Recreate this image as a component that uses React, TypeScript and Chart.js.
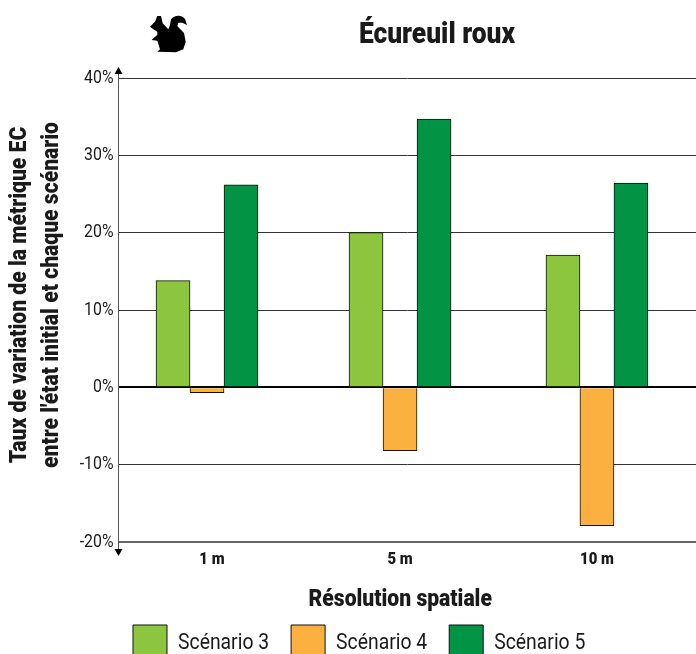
import React, { useEffect, useRef } from "react";
import { Chart, registerables } from "chart.js";

Chart.register(...registerables);

const resolutions = ["1 m", "5 m", "10 m"];
const groupPositions = [1, 1.99, 3];
const tickPositions = [1.025, 1.99, 3];
const scenario3 = [13.8, 20, 17.1];
const scenario4 = [-0.7, -8.2, -17.9];
const scenario5 = [26.2, 34.7, 26.4];
const yTicks = [40, 30, 20, 10, 0, -10, -20];

const FAMILY = "Roboto, sans-serif";
const TEXT = "#1a1a1a";
const CONDENSE = 0.88;
const squirrel =
  "M157.3 16 L161 16 L162.7 23.3 L168.3 29.3 L170 25 L171 19.3 Q174 15.7 178.3 15.7 Q183 16 185 19 L187 25 L182.3 22.7 L178.3 22.7 L177.3 26 L184 33 L185.7 41.7 L183.3 49.3 L176 52.3 L157.3 51.7 L160 49.3 L157.3 40.7 L151.7 40 L155 36.7 L157.3 35 L157.3 31.7 L153.3 29.3 L150 26.7 L155 21.7 Z";

const toPoints = (values: number[]) =>
  values.map((y, i) => ({ x: groupPositions[i], y }));

// No condensed face is installed: narrow Roboto horizontally, for drawing and for measuring alike.
function condenseText(ctx: any) {
  const fill = ctx.fillText.bind(ctx);
  const measure = ctx.measureText.bind(ctx);
  ctx.fillText = (text: string, x: number, y: number) => {
    ctx.save();
    ctx.translate(x, y);
    ctx.scale(CONDENSE, 1);
    fill(text, 0, 0);
    ctx.restore();
  };
  ctx.measureText = (text: string) => ({ width: measure(text).width * CONDENSE });
}

const decorations = {
  id: "decorations",
  afterLayout(chart: any) {
    chart.titleBlock.left = 178;
    chart.titleBlock.right = 696;
    chart.legend.left = 111;
    chart.legend.top += 17;
    chart.legend.bottom += 17;
    chart.scales.y.bottom = chart.chartArea.bottom - 30;
    chart.scales.x.right = chart.chartArea.right - 14;
    chart.scales.x.bottom += 28;
  },
  afterDraw(chart: any) {
    const { ctx, chartArea } = chart;
    const x = chartArea.left;
    ctx.save();
    ctx.strokeStyle = "#555";
    ctx.lineWidth = 1;
    ctx.beginPath();
    ctx.moveTo(x, chartArea.top - 8);
    ctx.lineTo(x, chartArea.bottom + 8);
    ctx.stroke();
    ctx.fillStyle = "#000";
    ctx.beginPath();
    ctx.moveTo(x, chartArea.top - 11);
    ctx.lineTo(x - 4, chartArea.top - 4);
    ctx.lineTo(x + 4, chartArea.top - 4);
    ctx.closePath();
    ctx.moveTo(x, chartArea.bottom + 14);
    ctx.lineTo(x - 4, chartArea.bottom + 7);
    ctx.lineTo(x + 4, chartArea.bottom + 7);
    ctx.closePath();
    ctx.fill();
    ctx.fill(new Path2D(squirrel));
    ctx.restore();
  },
};

export default function App() {
  const ref = useRef<HTMLCanvasElement | null>(null);
  useEffect(() => {
    if (!ref.current) return;
    condenseText(ref.current.getContext("2d"));
    const bar = { borderColor: "#111", borderWidth: 1, barThickness: 34, clip: false };
    const chart = new Chart(ref.current, {
      type: "bar",
      data: {
        datasets: [
          { label: "Scénario 3", data: toPoints(scenario3), backgroundColor: "#8CC63F", ...bar },
          { label: "Scénario 4", data: toPoints(scenario4), backgroundColor: "#FBB040", ...bar },
          { label: "Scénario 5", data: toPoints(scenario5), backgroundColor: "#009444", ...bar },
        ],
      } as any,
      plugins: [decorations],
      options: {
        animation: false,
        responsive: false,
        layout: { padding: 0 },
        plugins: {
          tooltip: { enabled: false },
          title: {
            display: true,
            text: "Écureuil roux",
            color: TEXT,
            font: { family: FAMILY, size: 30, weight: 900, lineHeight: 1.2 },
            padding: { top: 17, bottom: 25 },
          },
          legend: {
            position: "bottom",
            align: "start",
            labels: {
              boxWidth: 34,
              boxHeight: 36,
              padding: 22,
              color: TEXT,
              font: { family: FAMILY, size: 22 },
            },
          },
        },
        scales: {
          x: {
            type: "linear",
            offset: false,
            min: 0.546,
            max: 3.508,
            afterBuildTicks(scale: any) {
              scale.ticks = tickPositions.map((value) => ({ value }));
            },
            afterFit(scale: any) {
              scale.height = 44;
            },
            grid: { display: false },
            border: { display: false },
            ticks: {
              autoSkip: false,
              maxRotation: 0,
              padding: 0,
              color: TEXT,
              font: { family: FAMILY, size: 17, weight: 900 },
              callback: (_v: any, i: number) => resolutions[i],
            },
            title: {
              display: true,
              text: "Résolution spatiale",
              color: TEXT,
              font: { family: FAMILY, size: 24, weight: 900 },
              padding: { top: 12, bottom: 0 },
            },
          },
          y: {
            min: -20,
            max: 40,
            afterBuildTicks(scale: any) {
              scale.ticks = yTicks.map((value) => ({ value }));
            },
            afterFit(scale: any) {
              scale.width = 118.5;
            },
            grid: {
              drawTicks: false,
              color: (c: any) => (c.tick?.value === 0 ? "#000" : c.tick?.value === -20 ? "#666" : "#333"),
              lineWidth: (c: any) => (c.tick?.value === 0 || c.tick?.value === -20 ? 2 : 1),
            },
            border: { display: false },
            ticks: {
              padding: 5,
              color: TEXT,
              font: { family: FAMILY, size: 18 },
              callback: (v: any) => `${v}%`,
            },
            title: {
              display: true,
              text: ["Taux de variation de la métrique EC", "entre l'état initial et chaque scénario"],
              color: TEXT,
              font: { family: FAMILY, size: 24, weight: 900, lineHeight: 1.33 },
              padding: { top: 4, bottom: 0 },
            },
          },
        },
      } as any,
    });
    return () => chart.destroy();
  }, []);
  return (
    <div style={{ position: "absolute", left: 0, top: 0, width: 696, height: 654, overflow: "hidden", background: "#fff" }}>
      <canvas ref={ref} width={696} height={654} style={{ display: "block" }} />
    </div>
  );
}
